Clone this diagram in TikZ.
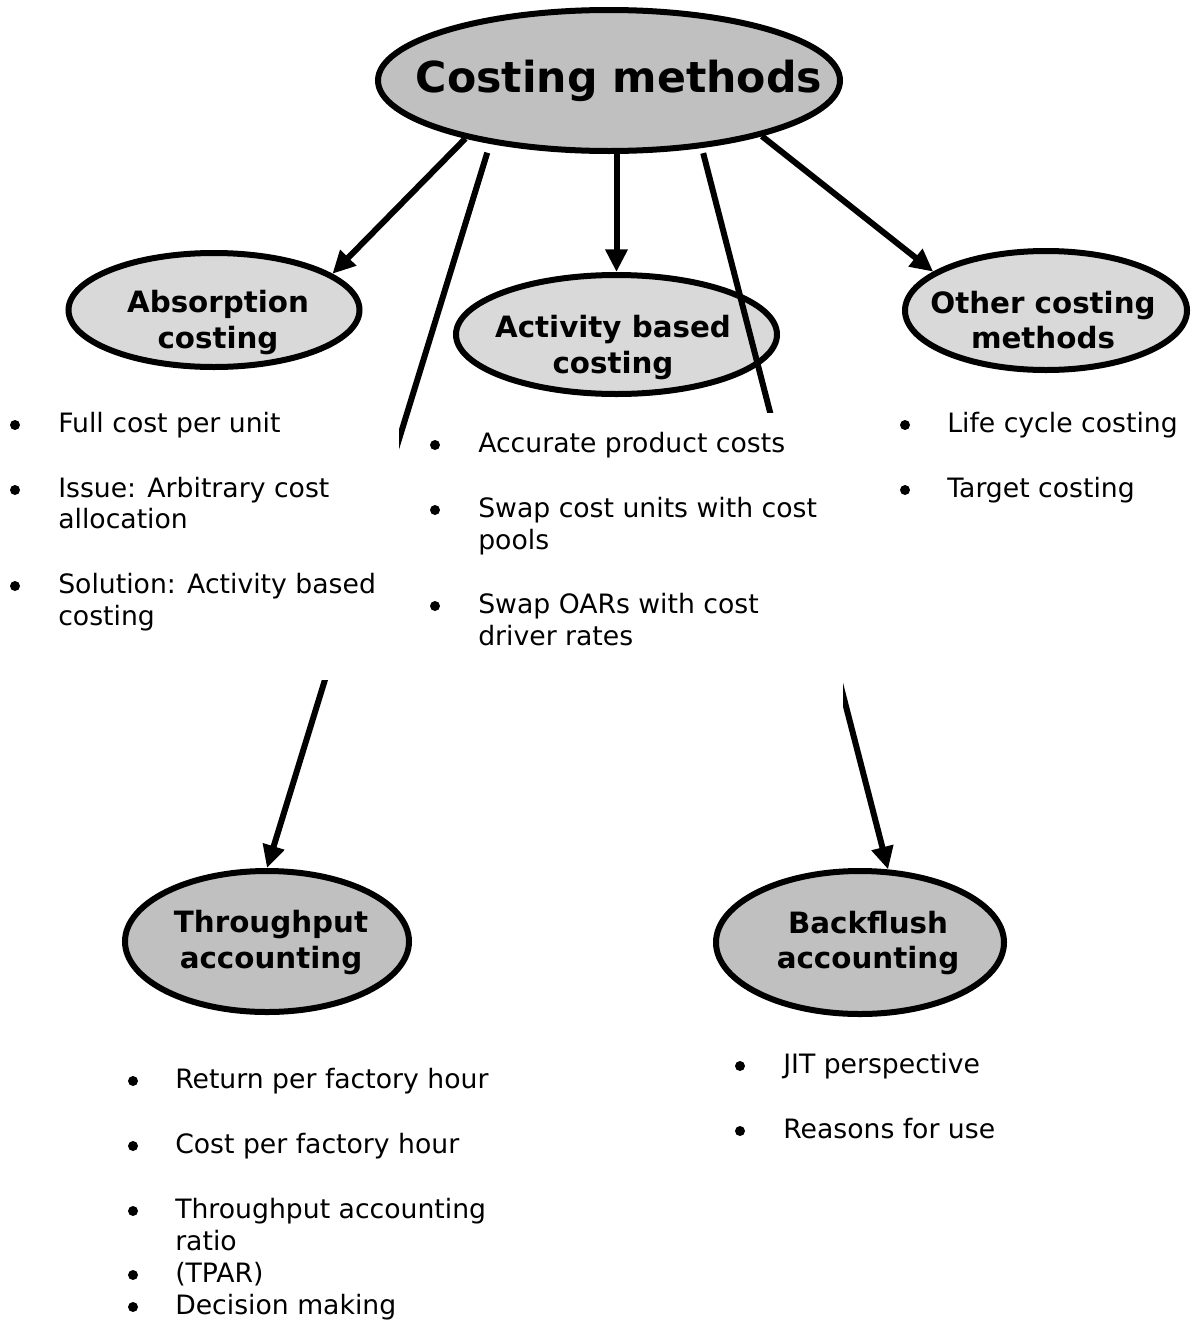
\documentclass[tikz,border=0pt]{standalone}
\usepackage{fontspec}
\setmainfont{DejaVu Sans}
\usetikzlibrary{shapes.geometric,arrows.meta}

\definecolor{ovaldark}{RGB}{192,192,192}
\definecolor{ovallight}{RGB}{217,217,217}

\tikzset{
  oval/.style={ellipse, draw=black, line width=4.5pt, inner sep=0pt},
  title/.style={anchor=base, inner sep=0pt, font=\fontsize{32}{38}\selectfont\bfseries},
  lbl/.style={anchor=base, inner sep=0pt, font=\fontsize{22}{27}\selectfont\bfseries},
  txt/.style={anchor=base west, inner sep=0pt, font=\fontsize{20}{24}\selectfont},
  dot/.style={circle, fill=black, inner sep=0pt, minimum size=7.5pt},
  link/.style={line width=4.5pt, -{Triangle[length=17pt,width=16pt]}},
  cover/.style={fill=white, draw=none, inner sep=0pt, anchor=north west}
}

\begin{document}
\begin{tikzpicture}[x=0.75pt, y=-0.75pt]
\useasboundingbox (0,0) rectangle (1192,1321);

% ovals
\node[oval, fill=ovaldark, minimum width=346.5pt, minimum height=105.75pt] (top) at (609,80.5) {};
\node[oval, fill=ovallight, minimum width=218.25pt, minimum height=85.5pt] (abs) at (214,310) {};
\node[oval, fill=ovallight, minimum width=240.75pt, minimum height=89.25pt] (abc) at (616.5,334.5) {};
\node[oval, fill=ovallight, minimum width=211.5pt, minimum height=89.25pt] (oth) at (1046,310.5) {};
\node[oval, fill=ovaldark, minimum width=213pt, minimum height=105.75pt] (thr) at (267,941.5) {};
\node[oval, fill=ovaldark, minimum width=216pt, minimum height=107.25pt] (bfl) at (860,942.5) {};

% connectors
\draw[link] (top.202) -- (abs.17);
\draw[link] (abc.north |- top.south) -- (abc.north);
\draw[link] (top.340) -- (oth.161);
\draw[link, shorten <=7pt] (top.208) -- (thr.north);
\draw[link, shorten <=4pt] (top.324) -- (bfl.69);

% white text panels laid over the long connectors
\node[cover, minimum width=299.25pt, minimum height=210pt] (absbox) at (0,400) {};
\node[cover, minimum width=317.25pt, minimum height=222.75pt] (abcbox) at (420,413) {};

% oval labels
\node[title] (ttop) at (619,92) {Costing methods};
\node[lbl] (tabs1) at (218,312) {Absorption};
\node[lbl] (tabs2) at (218,348) {costing};
\node[lbl] (tabc1) at (613,337) {Activity based};
\node[lbl] (tabc2) at (613,373) {costing};
\node[lbl] (toth1) at (1043,313) {Other costing};
\node[lbl] (toth2) at (1043,348) {methods};
\node[lbl] (tthr1) at (271,932) {Throughput};
\node[lbl] (tthr2) at (271,968) {accounting};
\node[lbl] (tbfl1) at (868,933) {Backflush};
\node[lbl] (tbfl2) at (868,968) {accounting};

% absorption costing points
\node[dot] (da1) at (15,425) {};
\node[txt] (a1) at (58,432) {Full cost per unit};
\node[dot] (da2) at (15,490) {};
\node[txt] (a2) at (58,497) {Issue: Arbitrary cost};
\node[txt] (a2b) at (58,528) {allocation};
\node[dot] (da3) at (15,586) {};
\node[txt] (a3) at (58,593) {Solution: Activity based};
\node[txt] (a3b) at (58,625) {costing};

% activity based costing points
\node[dot] (db1) at (435,445) {};
\node[txt] (b1) at (478,452) {Accurate product costs};
\node[dot] (db2) at (435,510) {};
\node[txt] (b2) at (478,517) {Swap cost units with cost};
\node[txt] (b2b) at (478,549) {pools};
\node[dot] (db3) at (435,606) {};
\node[txt] (b3) at (478,613) {Swap OARs with cost};
\node[txt] (b3b) at (478,645) {driver rates};

% other costing methods points
\node[dot] (dc1) at (905,425) {};
\node[txt] (c1) at (947,432) {Life cycle costing};
\node[dot] (dc2) at (905,490) {};
\node[txt] (c2) at (947,497) {Target costing};

% throughput accounting points
\node[dot] (dt1) at (133,1081) {};
\node[txt] (t1) at (175,1088) {Return per factory hour};
\node[dot] (dt2) at (133,1146) {};
\node[txt] (t2) at (175,1153) {Cost per factory hour};
\node[dot] (dt3) at (133,1211) {};
\node[txt] (t3) at (175,1218) {Throughput accounting};
\node[txt] (t3b) at (175,1250) {ratio};
\node[dot] (dt4) at (133,1275) {};
\node[txt] (t4) at (175,1282) {(TPAR)};
\node[dot] (dt5) at (133,1307) {};
\node[txt] (t5) at (175,1314) {Decision making};

% backflush accounting points
\node[dot] (dk1) at (740,1066) {};
\node[txt] (k1) at (783,1073) {JIT perspective};
\node[dot] (dk2) at (740,1131) {};
\node[txt] (k2) at (783,1138) {Reasons for use};
\end{tikzpicture}
\end{document}
